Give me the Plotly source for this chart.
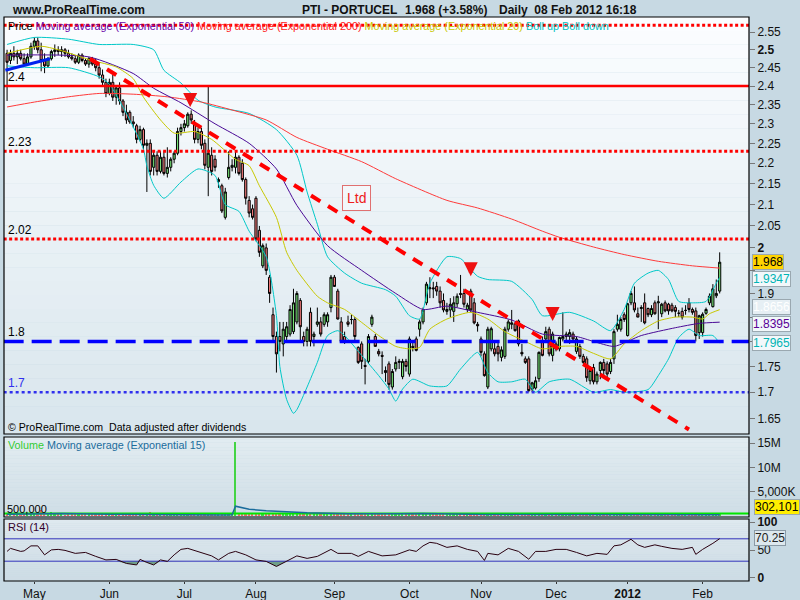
import numpy as np
import pandas as pd
import plotly.graph_objects as go

# ---------------- calendar ----------------
holidays = ["2011-04-22", "2011-04-25", "2011-12-26"]
dates = pd.bdate_range("2011-04-18", "2012-02-08")
dates = dates[~dates.isin(pd.to_datetime(holidays))]

# ---------------- daily OHLC (EUR) ----------------
open_ = [
2.49, 2.47, 2.49, 2.48, 2.49, 2.475, 2.46, 2.48, 2.51, 2.525,
2.50, 2.47, 2.455, 2.475, 2.495, 2.50, 2.495, 2.50, 2.49, 2.48,
2.475, 2.465, 2.485, 2.47, 2.46, 2.475, 2.46, 2.45, 2.43, 2.41,
2.38, 2.41, 2.37, 2.395, 2.36, 2.33, 2.33, 2.305, 2.295, 2.26,
2.285, 2.245, 2.25, 2.19, 2.22, 2.18, 2.215, 2.175, 2.19, 2.21,
2.225, 2.28, 2.29, 2.295, 2.325, 2.30, 2.26, 2.28, 2.25, 2.19,
2.22, 2.21, 2.155, 2.145, 2.07, 2.165, 2.19, 2.19, 2.215, 2.20,
2.16, 2.11, 2.09, 2.115, 2.04, 1.96, 2.00, 1.935, 1.855, 1.81,
1.81, 1.795, 1.81, 1.815, 1.82, 1.84, 1.885, 1.81, 1.80, 1.86,
1.81, 1.835, 1.84, 1.835, 1.84, 1.87, 1.935, 1.905, 1.84, 1.81,
1.84, 1.845, 1.845, 1.788, 1.795, 1.752, 1.76, 1.835, 1.81, 1.78,
1.772, 1.742, 1.755, 1.71, 1.745, 1.758, 1.73, 1.76, 1.735, 1.79,
1.805, 1.825, 1.84, 1.88, 1.91, 1.912, 1.915, 1.905, 1.885, 1.862,
1.865, 1.862, 1.878, 1.90, 1.90, 1.866, 1.905, 1.88, 1.835, 1.805,
1.775, 1.71, 1.785, 1.785, 1.79, 1.768, 1.77, 1.825, 1.835, 1.836,
1.842, 1.778, 1.765, 1.765, 1.706, 1.708, 1.726, 1.80, 1.805, 1.825,
1.772, 1.795, 1.785, 1.805, 1.81, 1.81, 1.815, 1.78, 1.79, 1.77,
1.765, 1.722, 1.748, 1.72, 1.742, 1.758, 1.755, 1.74, 1.765, 1.825,
1.825, 1.855, 1.812, 1.88, 1.88, 1.857, 1.868, 1.88, 1.868, 1.855,
1.88, 1.88, 1.857, 1.88, 1.877, 1.875, 1.87, 1.858, 1.862, 1.864,
1.88, 1.866, 1.863, 1.818, 1.818, 1.858, 1.88, 1.872, 1.895, 1.905]
high = [
2.50, 2.50, 2.51, 2.50, 2.50, 2.49, 2.49, 2.52, 2.535, 2.535,
2.52, 2.49, 2.48, 2.50, 2.515, 2.51, 2.51, 2.505, 2.50, 2.49,
2.485, 2.49, 2.49, 2.475, 2.48, 2.48, 2.475, 2.46, 2.445, 2.42,
2.42, 2.43, 2.40, 2.41, 2.365, 2.35, 2.335, 2.32, 2.30, 2.295,
2.29, 2.26, 2.26, 2.23, 2.23, 2.23, 2.23, 2.24, 2.215, 2.23,
2.29, 2.30, 2.31, 2.33, 2.335, 2.31, 2.29, 2.29, 2.26, 2.40,
2.24, 2.22, 2.165, 2.15, 2.14, 2.23, 2.21, 2.23, 2.22, 2.21,
2.165, 2.12, 2.10, 2.12, 2.05, 2.01, 2.01, 1.94, 1.87, 1.82,
1.84, 1.84, 1.84, 1.875, 1.91, 1.905, 1.89, 1.82, 1.83, 1.87,
1.82, 1.87, 1.85, 1.86, 1.86, 1.94, 1.94, 1.91, 1.85, 1.82,
1.853, 1.855, 1.85, 1.79, 1.80, 1.765, 1.815, 1.855, 1.815, 1.785,
1.78, 1.75, 1.76, 1.745, 1.77, 1.765, 1.765, 1.765, 1.81, 1.80,
1.81, 1.845, 1.87, 1.925, 1.935, 1.925, 1.925, 1.915, 1.90, 1.88,
1.89, 1.894, 1.90, 1.94, 1.91, 1.88, 1.91, 1.89, 1.84, 1.81,
1.78, 1.83, 1.83, 1.80, 1.80, 1.79, 1.83, 1.845, 1.865, 1.84,
1.845, 1.795, 1.77, 1.77, 1.72, 1.73, 1.78, 1.81, 1.83, 1.83,
1.82, 1.80, 1.81, 1.86, 1.82, 1.825, 1.82, 1.81, 1.795, 1.775,
1.77, 1.75, 1.755, 1.74, 1.76, 1.765, 1.76, 1.765, 1.825, 1.855,
1.85, 1.86, 1.88, 1.905, 1.915, 1.87, 1.875, 1.90, 1.87, 1.875,
1.885, 1.895, 1.88, 1.885, 1.88, 1.88, 1.875, 1.865, 1.87, 1.875,
1.89, 1.87, 1.87, 1.855, 1.86, 1.87, 1.90, 1.92, 1.93, 1.99]
low = [
2.36, 2.46, 2.47, 2.46, 2.47, 2.46, 2.455, 2.475, 2.50, 2.49,
2.44, 2.435, 2.45, 2.47, 2.48, 2.485, 2.48, 2.48, 2.475, 2.47,
2.46, 2.46, 2.465, 2.455, 2.45, 2.455, 2.44, 2.42, 2.40, 2.37,
2.375, 2.36, 2.35, 2.35, 2.32, 2.30, 2.30, 2.29, 2.25, 2.255,
2.235, 2.13, 2.17, 2.17, 2.17, 2.175, 2.17, 2.165, 2.18, 2.20,
2.22, 2.27, 2.28, 2.29, 2.30, 2.25, 2.25, 2.235, 2.185, 2.12,
2.17, 2.18, 2.14, 2.08, 2.065, 2.16, 2.18, 2.175, 2.17, 2.155,
2.10, 2.07, 2.065, 2.015, 1.98, 1.955, 1.94, 1.88, 1.80, 1.738,
1.78, 1.77, 1.80, 1.81, 1.815, 1.835, 1.80, 1.79, 1.79, 1.79,
1.79, 1.83, 1.81, 1.83, 1.83, 1.86, 1.915, 1.845, 1.80, 1.795,
1.83, 1.835, 1.80, 1.755, 1.745, 1.715, 1.755, 1.83, 1.79, 1.77,
1.735, 1.72, 1.705, 1.705, 1.74, 1.745, 1.725, 1.74, 1.73, 1.78,
1.78, 1.81, 1.835, 1.875, 1.89, 1.89, 1.895, 1.87, 1.86, 1.855,
1.85, 1.84, 1.87, 1.89, 1.87, 1.86, 1.86, 1.835, 1.82, 1.77,
1.73, 1.706, 1.78, 1.77, 1.76, 1.76, 1.765, 1.82, 1.825, 1.82,
1.79, 1.77, 1.755, 1.70, 1.70, 1.705, 1.72, 1.77, 1.80, 1.77,
1.76, 1.78, 1.78, 1.80, 1.80, 1.795, 1.80, 1.775, 1.765, 1.755,
1.72, 1.715, 1.715, 1.715, 1.725, 1.73, 1.725, 1.735, 1.755, 1.82,
1.82, 1.84, 1.81, 1.875, 1.86, 1.85, 1.84, 1.835, 1.85, 1.85,
1.855, 1.825, 1.85, 1.86, 1.855, 1.86, 1.85, 1.85, 1.845, 1.855,
1.86, 1.855, 1.80, 1.805, 1.81, 1.855, 1.875, 1.87, 1.89, 1.90]
close = [
2.465, 2.49, 2.48, 2.49, 2.475, 2.46, 2.48, 2.51, 2.525, 2.50,
2.47, 2.455, 2.475, 2.495, 2.50, 2.495, 2.50, 2.49, 2.48, 2.475,
2.465, 2.485, 2.47, 2.46, 2.475, 2.46, 2.45, 2.43, 2.41, 2.38,
2.41, 2.37, 2.395, 2.36, 2.33, 2.31, 2.305, 2.30, 2.26, 2.285,
2.245, 2.25, 2.18, 2.22, 2.18, 2.215, 2.175, 2.19, 2.21, 2.225,
2.28, 2.29, 2.30, 2.325, 2.31, 2.26, 2.28, 2.245, 2.195, 2.225,
2.18, 2.19, 2.16, 2.085, 2.13, 2.19, 2.195, 2.215, 2.175, 2.16,
2.115, 2.08, 2.07, 2.02, 1.99, 2.005, 1.95, 1.90, 1.81, 1.775,
1.80, 1.825, 1.83, 1.866, 1.88, 1.90, 1.83, 1.80, 1.825, 1.80,
1.815, 1.84, 1.815, 1.855, 1.855, 1.935, 1.915, 1.846, 1.80, 1.80,
1.835, 1.845, 1.81, 1.758, 1.76, 1.75, 1.81, 1.85, 1.79, 1.775,
1.77, 1.738, 1.715, 1.74, 1.758, 1.76, 1.76, 1.75, 1.805, 1.788,
1.782, 1.84, 1.865, 1.92, 1.912, 1.91, 1.905, 1.88, 1.865, 1.866,
1.877, 1.88, 1.894, 1.898, 1.877, 1.875, 1.865, 1.838, 1.832, 1.778,
1.732, 1.825, 1.826, 1.775, 1.775, 1.783, 1.825, 1.84, 1.838, 1.822,
1.795, 1.775, 1.758, 1.703, 1.718, 1.722, 1.778, 1.772, 1.82, 1.775,
1.815, 1.785, 1.808, 1.81, 1.815, 1.818, 1.805, 1.805, 1.77, 1.758,
1.728, 1.742, 1.72, 1.735, 1.758, 1.742, 1.735, 1.758, 1.82, 1.835,
1.845, 1.845, 1.878, 1.90, 1.865, 1.85, 1.87, 1.838, 1.855, 1.868,
1.857, 1.882, 1.877, 1.863, 1.863, 1.863, 1.862, 1.858, 1.85, 1.864,
1.866, 1.86, 1.812, 1.853, 1.856, 1.866, 1.894, 1.91, 1.90, 1.968]

# daily volume, thousands of shares
volume_k = [
250, 300, 200, 220, 180, 260, 240, 380, 350, 300,
1200, 300, 250, 830, 280, 200, 220, 180, 240, 210,
190, 230, 200, 260, 210, 240, 280, 350, 400, 600,
300, 380, 320, 350, 420, 380, 620, 340, 420, 300,
380, 450, 900, 300, 320, 280, 340, 300, 260, 240,
350, 280, 260, 300, 240, 330, 220, 280, 360, 480,
300, 260, 240, 600, 420, 320, 250, 15200, 380, 300,
550, 420, 300, 450, 420, 380, 400, 420, 480, 500,
380, 340, 300, 360, 320, 300, 380, 280, 260, 300,
220, 240, 260, 230, 250, 420, 300, 320, 300, 240,
220, 200, 260, 300, 280, 500, 320, 260, 550, 280,
600, 300, 320, 280, 220, 200, 240, 200, 380, 700,
700, 320, 700, 360, 280, 260, 240, 260, 220, 200,
210, 230, 220, 260, 240, 200, 260, 300, 220, 300,
320, 380, 260, 220, 240, 200, 280, 220, 240, 200,
260, 220, 240, 340, 240, 220, 300, 240, 260, 280,
240, 200, 210, 260, 200, 180, 190, 210, 230, 240,
280, 220, 260, 200, 210, 190, 200, 180, 320, 260,
240, 220, 300, 320, 260, 240, 220, 280, 220, 200,
230, 250, 210, 220, 200, 190, 210, 180, 220, 200,
230, 220, 320, 280, 260, 220, 300, 340, 320, 302.101]

# indicator curves (trading-day index, value)
ema20_day = [0, 10, 15, 25, 32, 37, 40, 45, 49, 55, 60, 67, 71, 74, 79, 82, 85, 91, 94, 99,
             104, 109, 114, 118, 121, 124, 129, 136, 141, 146, 152, 157, 162, 167, 172, 177,
             181, 186, 191, 196, 201, 204, 206, 209]
ema20_val = [2.49, 2.51, 2.50, 2.47, 2.452, 2.42, 2.37, 2.31, 2.276, 2.28, 2.26, 2.21, 2.194,
             2.145, 2.07, 1.99, 1.95, 1.894, 1.88, 1.866, 1.839, 1.812, 1.79, 1.785, 1.788,
             1.825, 1.846, 1.86, 1.846, 1.82, 1.80, 1.785, 1.79, 1.79, 1.776, 1.765, 1.795,
             1.822, 1.842, 1.85, 1.85, 1.846, 1.857, 1.8656]
ema50_day = [0, 24, 37, 43, 51, 61, 71, 79, 85, 94, 104, 114, 122, 129, 138, 148, 157, 167,
             172, 178, 186, 196, 203, 209]
ema50_val = [2.485, 2.48, 2.434, 2.394, 2.355, 2.30, 2.25, 2.186, 2.098, 2.005, 1.95, 1.90,
             1.866, 1.873, 1.86, 1.844, 1.815, 1.81, 1.80, 1.79, 1.812, 1.828, 1.837, 1.8395]
ema200_day = [0, 8, 18, 27, 37, 47, 57, 66, 76, 85, 94, 104, 114, 129, 138, 148, 157, 162,
              172, 181, 191, 201, 209]
ema200_val = [2.344, 2.357, 2.371, 2.38, 2.378, 2.371, 2.357, 2.336, 2.31, 2.265, 2.235,
              2.204, 2.162, 2.11, 2.092, 2.066, 2.038, 2.024, 2.002, 1.985, 1.97, 1.96, 1.955]
boll_up_day = [0, 8, 18, 27, 37, 43, 46, 51, 56, 61, 71, 79, 85, 88, 91, 94, 99, 104, 111,
               114, 118, 121, 124, 129, 133, 138, 141, 148, 154, 157, 165, 172, 177, 181,
               184, 188, 191, 194, 197, 201, 205, 208, 209]
boll_up_val = [2.515, 2.535, 2.53, 2.515, 2.515, 2.50, 2.443, 2.408, 2.362, 2.344, 2.327,
               2.285, 2.22, 2.13, 2.054, 1.98, 1.944, 1.922, 1.908, 1.894, 1.853, 1.846,
               1.922, 1.98, 1.976, 1.937, 1.93, 1.926, 1.887, 1.853, 1.86, 1.842, 1.822,
               1.866, 1.922, 1.944, 1.95, 1.93, 1.883, 1.88, 1.883, 1.922, 1.9347]
boll_dn_day = [0, 8, 18, 27, 30, 33, 36, 40, 41, 43, 46, 51, 56, 61, 64, 68, 71, 76, 79, 80,
               82, 84, 85, 88, 91, 94, 97, 99, 104, 109, 112, 114, 116, 119, 124, 129, 133,
               138, 141, 144, 148, 152, 155, 159, 165, 172, 177, 181, 188, 191, 194, 197,
               200, 203, 207, 209]
boll_dn_val = [2.455, 2.45, 2.45, 2.425, 2.405, 2.36, 2.31, 2.235, 2.194, 2.146, 2.115,
               2.154, 2.186, 2.17, 2.10, 2.084, 2.038, 1.98, 1.853, 1.75, 1.686, 1.66, 1.667,
               1.71, 1.758, 1.812, 1.822, 1.812, 1.772, 1.732, 1.706, 1.683, 1.706, 1.725,
               1.712, 1.712, 1.745, 1.778, 1.738, 1.72, 1.72, 1.725, 1.70, 1.72, 1.725, 1.70,
               1.705, 1.70, 1.705, 1.732, 1.765, 1.808, 1.825, 1.812, 1.812, 1.7965]
vol_ema_day = [0, 8, 16, 30, 47, 63, 66, 67, 71, 76, 88, 100, 115, 122, 140, 170, 209]
vol_ema_m = [0.35, 0.5, 0.5, 0.35, 0.2, 0.2, 0.25, 2.0, 1.36, 1.07, 0.66, 0.45, 0.45, 0.5,
             0.3, 0.25, 0.25]
rsi_day = [0, 1, 4, 5, 7, 9, 11, 13, 15, 17, 20, 23, 26, 29, 32, 35, 38, 39, 41, 43, 45, 47,
           49, 51, 53, 56, 58, 60, 62, 65, 67, 70, 73, 76, 79, 82, 85, 88, 91, 95, 97, 101,
           103, 106, 110, 114, 118, 120, 122, 124, 126, 129, 132, 135, 138, 140, 141, 144,
           147, 150, 152, 153, 155, 158, 161, 164, 167, 170, 173, 176, 178, 180, 183, 185,
           187, 190, 192, 195, 198, 201, 202, 204, 207, 209]
rsi_val = [47.5, 52.9, 47.5, 48.4, 57.4, 57.4, 41.3, 50.2, 51.1, 49.3, 44, 45.7, 38.6, 32.3,
           33.2, 26, 23.3, 33.2, 27.8, 23.3, 32.3, 29.6, 41.3, 51.1, 52.9, 47.5, 44, 39.5,
           32.3, 44, 47.5, 41.3, 32.3, 29.6, 20.6, 29.6, 39.5, 35, 38.6, 51.1, 44, 44, 38.6,
           47.5, 39.5, 41.3, 50.2, 47.5, 57.4, 63.7, 61.9, 54.7, 57.4, 51.1, 47.5, 31.4, 44,
           41.3, 52.9, 47.5, 38.6, 33.5, 47.5, 47.5, 51.1, 51.1, 45.7, 39.5, 44, 42.2, 57.4,
           59.2, 69.1, 59.2, 54.7, 59.2, 56.5, 52.9, 51.1, 54.7, 42.2, 51.1, 61.9, 70.25]

# drawn objects
level_price = [2.57, 2.4, 2.23, 2.02, 1.8, 1.7]
level_label = ["", "2.4", "2.23", "2.02", "1.8", "1.7"]
trend_day = [24.3, 200]
trend_price = [2.475, 1.63]
uptrend_day = [-0.5, 12.6]
uptrend_price = [2.443, 2.475]
arrow_day = [53.7, 136, 160]
arrow_price = [2.344, 1.937, 1.842]
ltd_day, ltd_price = 102.6, 2.115
vol_threshold = 500000
rsi_bands = [70, 30]

# tick labels (1.8, 1.85 and 1.95 sit under the value boxes, so they show no text)
price_ticks = [1.65, 1.7, 1.75, 1.8, 1.85, 1.9, 1.95, 2.0, 2.05, 2.1, 2.15, 2.2, 2.25, 2.3,
               2.35, 2.4, 2.45, 2.5, 2.55]
price_tick_text = ["1.65", "1.7", "1.75", "", "", "1.9", "", "<b>2</b>", "2.05",
                   "2.1", "2.15", "2.2", "2.25", "2.3", "2.35", "2.4", "2.45", "<b>2.5</b>", "2.55"]
vol_ticks = [5e6, 10e6, 15e6]
vol_tick_text = ["5,000K", "10M", "15M"]
rsi_ticks = [0, 50, 100]
rsi_tick_text = ["<b>0</b>", "50", "<b>100</b>"]
month_label = ["May", "Jun", "Jul", "Aug", "Sep", "Oct", "Nov", "Dec", "<b>2012</b>", "Feb"]

# ---------------- layout geometry ----------------
W, H = 800, 600
ML, MR, MT, MB = 4, 51, 17, 19
PW, PH = W - ML - MR, H - MT - MB
def pxx(x): return (x - ML) / PW
def pxy(y): return (H - MB - y) / PH

FONT = "Liberation Sans, Arial, sans-serif"
BG = "#c7d9e3"
idx = np.arange(len(close))
month_start = [i for i in range(1, len(dates)) if dates[i].month != dates[i - 1].month]
XR = [-0.9, 217.6]
XL = [-1, 218]

fig = go.Figure()

# indicators
for d, v, c in [(boll_up_day, boll_up_val, "#00c8c8"), (boll_dn_day, boll_dn_val, "#00c8c8"),
                (ema200_day, ema200_val, "#ff3a3a"), (ema50_day, ema50_val, "#4a0a96"),
                (ema20_day, ema20_val, "#c8c800")]:
    fig.add_trace(go.Scatter(x=d, y=v, mode="lines", line=dict(color=c, width=1, shape="spline", smoothing=0.6),
                             xaxis="x", yaxis="y", hoverinfo="skip"))

fig.add_trace(go.Candlestick(x=idx, open=open_, high=high, low=low, close=close,
                             increasing=dict(line=dict(color="#000000", width=1), fillcolor="#74e074"),
                             decreasing=dict(line=dict(color="#000000", width=1), fillcolor="#f07878"),
                             whiskerwidth=0, xaxis="x", yaxis="y", hoverinfo="skip"))

lvl_style = [dict(color="#ff0000", width=3, dash="3px,2.5px"),
             dict(color="#ff0000", width=2.5),
             dict(color="#ff0000", width=3, dash="3px,2.5px"),
             dict(color="#ff0000", width=3, dash="3px,2.5px"),
             dict(color="#0000ff", width=3.5, dash="20px,8px"),
             dict(color="#3030ee", width=2.5, dash="3px,3px")]
for p, st in zip(level_price, lvl_style):
    fig.add_trace(go.Scatter(x=XL, y=[p, p], mode="lines", line=st, xaxis="x", yaxis="y", hoverinfo="skip"))

fig.add_trace(go.Scatter(x=trend_day, y=trend_price, mode="lines",
                         line=dict(color="#ff0000", width=4, dash="11px,9px"), xaxis="x", yaxis="y", hoverinfo="skip"))
fig.add_trace(go.Scatter(x=uptrend_day, y=uptrend_price, mode="lines",
                         line=dict(color="#0022ee", width=3), xaxis="x", yaxis="y", hoverinfo="skip"))

# volume panel
vcol = ["#44d444" if c >= o else "#ee6a6a" for o, c in zip(open_, close)]
fig.add_trace(go.Bar(x=idx, y=[v * 1000 for v in volume_k], marker=dict(color=vcol, line=dict(width=0)),
                     width=0.5, xaxis="x2", yaxis="y2", hoverinfo="skip"))
fig.add_trace(go.Scatter(x=XL, y=[vol_threshold] * 2, mode="lines", line=dict(color="#00e600", width=2),
                         xaxis="x2", yaxis="y2", hoverinfo="skip"))
fig.add_trace(go.Scatter(x=vol_ema_day, y=[v * 1e6 for v in vol_ema_m], mode="lines",
                         line=dict(color="#1a6c9c", width=1.5), xaxis="x2", yaxis="y2", hoverinfo="skip"))

# RSI panel
fig.add_trace(go.Scatter(x=rsi_day, y=[30] * len(rsi_day), mode="lines", line=dict(width=0),
                         xaxis="x3", yaxis="y3", hoverinfo="skip"))
fig.add_trace(go.Scatter(x=rsi_day, y=[min(v, 30) for v in rsi_val], mode="lines", line=dict(width=0),
                         fill="tonexty", fillcolor="#6f9f88", xaxis="x3", yaxis="y3", hoverinfo="skip"))
for b in rsi_bands:
    fig.add_trace(go.Scatter(x=XL, y=[b, b], mode="lines", line=dict(color="#3434bb", width=1),
                             xaxis="x3", yaxis="y3", hoverinfo="skip"))
fig.add_trace(go.Scatter(x=rsi_day, y=rsi_val, mode="lines", line=dict(color="#2a0010", width=1),
                         xaxis="x3", yaxis="y3", hoverinfo="skip"))

# ---------------- background gradients and frames ----------------
shapes = []
def hexrgb(h): return tuple(int(h[i:i + 2], 16) for i in (1, 3, 5))
def grad(y0, y1, ctop, cbot, n=30):
    a, b = hexrgb(ctop), hexrgb(cbot)
    for k in range(n):
        t = k / (n - 1)
        c = "rgb(%d,%d,%d)" % tuple(round(a[j] + (b[j] - a[j]) * t) for j in range(3))
        shapes.append(dict(type="rect", xref="paper", yref="paper", x0=0, x1=1,
                           y0=y1 - (k + 1) * (y1 - y0) / n, y1=y1 - k * (y1 - y0) / n,
                           fillcolor=c, line=dict(width=0), layer="below"))

dom_price = [pxy(434), pxy(17)]
dom_vol = [pxy(517), pxy(437)]
dom_rsi = [pxy(581), pxy(519)]
grad(dom_price[0], dom_price[1], "#fbfdff", "#d9e6ed")
grad(dom_vol[0], dom_vol[1], "#e2ecf1", "#cfdee6")
grad(dom_rsi[0], dom_rsi[1], "#dfe9ef", "#cddce5")
for d in (dom_price, dom_vol, dom_rsi):
    shapes.append(dict(type="rect", xref="paper", yref="paper", x0=0, x1=1, y0=d[0], y1=d[1],
                       line=dict(color="#000000", width=1.2), fillcolor="rgba(0,0,0,0)", layer="above"))

# ---------------- annotations ----------------
ann = []
def txt(x, y, s, size=12, color="#000", bold=False, xanchor="left", yanchor="middle", **kw):
    ann.append(dict(x=x, y=y, xref=kw.pop("xref", "paper"), yref=kw.pop("yref", "paper"),
                    text=("<b>%s</b>" % s) if bold else s, showarrow=False, xanchor=xanchor,
                    yanchor=yanchor, font=dict(family=FONT, size=size, color=color), **kw))

txt(pxx(10), pxy(10), "www.ProRealTime.com", 12, "#111", True)
txt(pxx(300), pxy(10), "PTI - PORTUCEL", 12, "#111", True)
txt(pxx(403), pxy(10), "%s (+3.58%%)" % close[-1], 12, "#111", True)
txt(pxx(497), pxy(10), "Daily&nbsp;&nbsp;08 Feb 2012 16:18", 12, "#111", True)

legend = ('<span style="color:#000">Price</span> '
          '<span style="color:#6a00a8">Moving average (Exponential 50)</span> '
          '<span style="color:#ff2020">Moving average (Exponential 200)</span> '
          '<span style="color:#c8c800">Moving average (Exponential 20)</span> '
          '<span style="color:#00c0c0">Boll up Boll down</span>')
txt(pxx(6), pxy(26), legend, 10.8)
txt(pxx(6), pxy(427), "© ProRealTime.com&nbsp;&nbsp;Data adjusted after dividends", 10.6)
txt(pxx(6), pxy(445), '<span style="color:#33cc33">Volume</span> '
                      '<span style="color:#1a6c9c">Moving average (Exponential 15)</span>', 10.8)
txt(pxx(5), pxy(508.5), "500,000", 11)
txt(pxx(6), pxy(527), "RSI (14)", 11, "#33002a")

for p, lab in zip(level_price, level_label):
    if lab:
        txt(pxx(6), np.log10(p), lab, 12, "#3030ee" if p == 1.7 else "#000", yref="y",
            yanchor="bottom", yshift=0)

# right-hand value boxes
for v, fc, bg, sh in [(close[-1], "#000000", "#ffd400", 0), (boll_up_val[-1], "#00b4b4", "#f2f8fb", -2),
                      (ema20_val[-1], "#ffffff", "#e6eff4", 2.5), (ema50_val[-1], "#5a0096", "#f2f8fb", -1.5),
                      (boll_dn_val[-1], "#00b4b4", "#f2f8fb", 0)]:
    txt(pxx(752), np.log10(v), str(v), 12, fc, yref="y", bgcolor=bg, bordercolor="#9aa8b0",
        borderwidth=1, borderpad=0, yshift=sh)
txt(pxx(754), pxy(506.5), "{:,}".format(int(round(volume_k[-1] * 1000))), 12, "#000", bgcolor="#ffee00",
    bordercolor="#9aa8b0", borderwidth=1, borderpad=0)
txt(pxx(754), rsi_val[-1], "%.2f" % rsi_val[-1], 12, "#222", yref="y3", bgcolor="#dde8ee",
    bordercolor="#8a9aa6", borderwidth=1, borderpad=0, yshift=1)

# Ltd box and arrows
ann.append(dict(x=ltd_day, y=np.log10(ltd_price), xref="x", yref="y", text="Ltd", showarrow=False,
                font=dict(family=FONT, size=14, color="#ee2020"), bordercolor="#e07070",
                borderwidth=1, borderpad=4, bgcolor="rgba(255,255,255,0.35)"))
for d, p in zip(arrow_day, arrow_price):
    ann.append(dict(x=d, y=np.log10(p), xref="x", yref="y", text="", showarrow=True,
                    arrowhead=2, arrowsize=0.7, arrowwidth=4, arrowcolor="#ee1010", ax=0, ay=-14))

axis_font = dict(family=FONT, size=12, color="#111")
fig.update_layout(
    width=W, height=H, margin=dict(l=ML, r=MR, t=MT, b=MB, autoexpand=False),
    paper_bgcolor=BG, plot_bgcolor="rgba(0,0,0,0)",
    showlegend=False, hovermode=False, boxgap=0.1, bargap=0,
    shapes=shapes, annotations=ann,
    xaxis=dict(domain=[0, 1], range=XR, anchor="y", showticklabels=False, showgrid=False,
               zeroline=False, rangeslider=dict(visible=False), automargin=False),
    xaxis2=dict(domain=[0, 1], range=XR, anchor="y2", showticklabels=False, showgrid=False,
                zeroline=False, matches="x", automargin=False),
    xaxis3=dict(domain=[0, 1], range=XR, anchor="y3", showgrid=False, zeroline=False,
                tickmode="array", tickvals=month_start, ticktext=month_label, ticks="outside",
                ticklen=2, tickcolor="#333", tickfont=axis_font, matches="x", automargin=False),
    yaxis=dict(domain=dom_price, type="log", range=[np.log10(1.6218), np.log10(2.594)],
               side="right", anchor="x", tickmode="array", tickvals=price_ticks,
               ticktext=price_tick_text, ticks="outside", ticklen=5, tickcolor="#777",
               tickfont=axis_font, showgrid=False, zeroline=False, automargin=False),
    yaxis2=dict(domain=dom_vol, range=[-0.23e6, 16.3e6], side="right", anchor="x2",
                tickmode="array", tickvals=vol_ticks, ticktext=vol_tick_text, ticks="outside",
                ticklen=5, tickcolor="#777", tickfont=axis_font, showgrid=False, zeroline=False,
                automargin=False),
    yaxis3=dict(domain=dom_rsi, range=[-5.4, 105.4], side="right", anchor="x3",
                tickmode="array", tickvals=rsi_ticks, ticktext=rsi_tick_text, ticks="outside",
                ticklen=5, tickcolor="#777", tickfont=axis_font, showgrid=False, zeroline=False,
                automargin=False),
)

fig.write_html("out.html", config={"displayModeBar": False}, post_script=(
    "document.body.style.margin='0px';document.body.style.padding='0px';"
    "document.body.style.overflow='hidden';document.body.style.background='%s';" % BG))
